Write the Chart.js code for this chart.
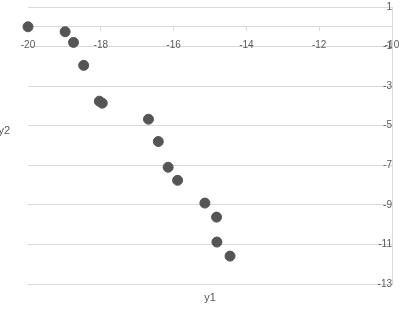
<!DOCTYPE html>
<html>
<head>
<meta charset="utf-8">
<script src="https://cdn.jsdelivr.net/npm/chart.js@4"></script>
<style>
  html, body { margin: 0; padding: 0; background: #fff; }
  #wrap { width: 400px; height: 312px; position: relative; }
</style>
</head>
<body>
<div id="wrap"><canvas id="chart"></canvas></div>
<script>
// values
const y1Values = [-20, -18.98, -18.75, -18.47, -18.04, -17.96, -16.69, -16.42, -16.15, -15.89, -15.14, -14.82, -14.81, -14.45]
const y2Values = [0, -0.25, -0.79, -1.95, -3.76, -3.86, -4.67, -5.8, -7.1, -7.76, -8.91, -9.62, -10.88, -11.59]
const xRange = [-20, -10]
const yRange = [-13, 1]

const textColor = "#595959"
const lineColor = "#d9d9d9"
const font = { family: "'Liberation Sans', Arial, sans-serif", size: 10 }

// axis titles sit where Excel put them, not in the scale boxes
const titles = {
  id: "titles",
  afterDraw(chart) {
    const ctx = chart.ctx
    const area = chart.chartArea
    ctx.save()
    ctx.fillStyle = textColor
    ctx.font = "11px 'Liberation Sans', Arial, sans-serif"
    ctx.textBaseline = "middle"
    ctx.textAlign = "center"
    ctx.fillText("y1", (area.left + area.right) / 2, 298)
    ctx.textAlign = "right"
    ctx.fillText("y2", 10, 131)
    ctx.restore()
  },
}

new Chart(document.getElementById("chart"), {
  type: "scatter",
  data: {
    datasets: [
      {
        label: "y2",
        data: y1Values.map((x, i) => ({ x: x, y: y2Values[i] })),
        backgroundColor: "#555555",
        borderColor: "#555555",
        pointRadius: 5,
        pointHoverRadius: 5,
        clip: false,
      },
    ],
  },
  options: {
    responsive: true,
    maintainAspectRatio: false,
    animation: false,
    layout: { padding: { left: 28, right: 8, top: 7, bottom: 28 } },
    plugins: {
      legend: { display: false },
      tooltip: { enabled: false },
    },
    scales: {
      x: {
        type: "linear",
        position: { y: 0 },
        min: xRange[0],
        max: xRange[1],
        ticks: { stepSize: 2, color: textColor, font: font, padding: 8, maxRotation: 0 },
        grid: { drawOnChartArea: false, drawTicks: true, tickLength: 4, color: lineColor },
        border: { display: true, color: lineColor },
        afterFit(scale) {
          scale.height = 0
          scale.paddingLeft = 0
          scale.paddingRight = 0
        },
      },
      y: {
        type: "linear",
        position: { x: -10 },
        min: yRange[0],
        max: yRange[1],
        ticks: { stepSize: 2, color: textColor, font: font, padding: 9 },
        grid: { drawTicks: false, color: lineColor },
        border: { display: true, color: lineColor },
        afterFit(scale) {
          scale.width = 0
          scale.paddingTop = 0
          scale.paddingBottom = 0
        },
      },
    },
  },
  plugins: [titles],
})
</script>
</body>
</html>
